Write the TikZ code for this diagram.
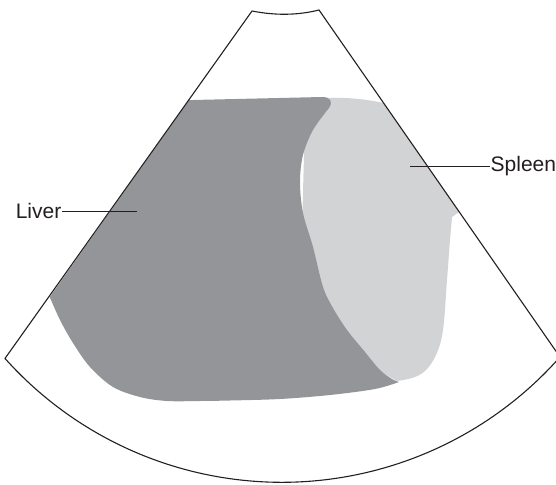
\documentclass[tikz,border=0pt]{standalone}
\usepackage{fontspec}
\setmainfont{Liberation Sans}
\usetikzlibrary{calc}
\definecolor{liver}{HTML}{939598}
\definecolor{spleen}{HTML}{D1D3D4}
\definecolor{ink}{HTML}{231F20}
\tikzset{
  sector/.style     = {draw=ink, line width=1.1pt, line join=miter},
  liverarea/.style  = {fill=liver},
  spleenarea/.style = {fill=spleen},
  organname/.style  = {font=\fontsize{21}{25}\selectfont, text=ink,
                       inner sep=0.5pt},
  leader/.style     = {draw=ink, line width=0.9pt}
}

\begin{document}
\begin{tikzpicture}[x=1pt, y=-1pt]
  \useasboundingbox (0,0) rectangle (556,484);

  % corners of the scan sector
  \coordinate (tl) at (252,11);
  \coordinate (tr) at (319,10);
  \coordinate (bl) at (6,359);
  \coordinate (br) at (560,357);

  % spleen (its left part lies under the liver)
  \fill[spleenarea] (305,120) -- (322,98)
    .. controls (345,97) and (365,99) .. ($(tr)!0.268!(br)$)
    -- ($(tr)!0.582!(br)$)
    -- plot[smooth, tension=0.6] coordinates {(452,217) (450,240) (447,280)
         (443,330) (436,355) (425,371) (412,378) (397,381)}
    -- (360,360) -- (300,300) -- cycle;

  % liver
  \fill[liverarea] ($(tl)!0.256!(bl)$) -- (322,97)
    .. controls (331,97) and (333,102) .. (329,108)
    -- plot[smooth, tension=0.55] coordinates {(329,108) (313,130) (303,155)
         (300,182) (303,213) (313,247) (323,287) (333,308) (347,330)
         (365,352) (380,370) (392,379) (399,382)}
    -- plot[smooth, tension=0.55] coordinates {(399,382) (375,389) (330,395)
         (280,399) (230,400.5) (200,401) (167,401) (140,397) (113,387)
         (90,367) (73,343) (60,320) ($(tl)!0.822!(bl)$)}
    -- cycle;

  % sector outline
  \draw[sector] (tl) .. controls (275,15.5) and (297,15.5) .. (tr)
    -- (br) arc[start angle=-41.5, end angle=-138.2, radius=371.4pt]
    -- cycle;

  % labels
  \node[organname, anchor=east] (liv) at (62,211) {Liver};
  \node[organname, anchor=west] (spl) at (490,166) {Spleen};
  \coordinate (livtip) at (137,211);
  \coordinate (spltip) at (410,166);
  \draw[leader] (liv.east) -- (livtip);
  \draw[leader] (spltip) -- (spl.west);
\end{tikzpicture}
\end{document}
